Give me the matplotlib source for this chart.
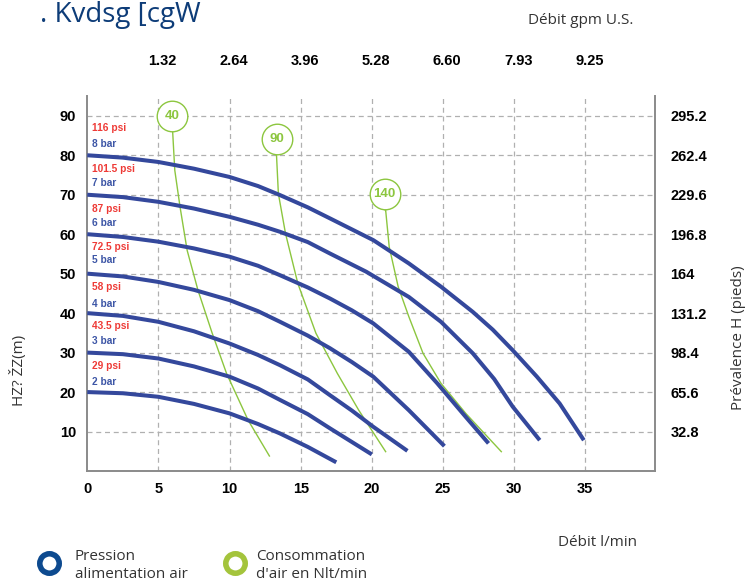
import numpy as np
import matplotlib.pyplot as plt
from matplotlib.lines import Line2D

# Data: pump curves (flow l/min, head m) per supply pressure
bar_labels = ["2 bar", "3 bar", "4 bar", "5 bar", "6 bar", "7 bar", "8 bar"]
psi_labels = ["29 psi", "43.5 psi", "58 psi", "72.5 psi", "87 psi", "101.5 psi", "116 psi"]
bar_label_y = [22.5, 32.9, 42.3, 53.4, 62.8, 72.9, 82.8]
psi_label_y = [26.6, 36.7, 46.6, 56.7, 66.3, 76.5, 86.8]

flow_2 = [0, 2.5, 5.0, 7.5, 10.0, 12.0, 13.55, 15.5, 17.5]
head_2 = [20, 19.7, 18.8, 17.0, 14.6, 11.9, 9.5, 6.1, 2.2]
flow_3 = [0, 2.5, 5.0, 7.5, 10.0, 12.0, 13.55, 15.5, 17.06, 20.0]
head_3 = [30, 29.6, 28.5, 26.5, 23.9, 20.9, 18.0, 14.4, 10.8, 4.2]
flow_4 = [0, 2.5, 5.0, 7.5, 10.0, 12.0, 13.55, 15.5, 17.06, 18.6, 20.1, 22.5]
head_4 = [40, 39.3, 37.8, 35.4, 32.3, 29.4, 26.8, 23.2, 19.2, 15.3, 11.2, 5.1]
flow_5 = [0, 2.5, 5.0, 7.5, 10.0, 12.0, 13.55, 15.5, 17.06, 18.6, 20.1, 22.6, 25.1]
head_5 = [50, 49.3, 47.9, 45.9, 43.3, 40.5, 37.8, 34.3, 31.1, 27.6, 23.9, 15.4, 6.3]
flow_6 = [0, 2.5, 5.0, 7.5, 10.0, 12.0, 13.55, 15.5, 17.06, 18.6, 20.1, 22.6, 24.6, 26.6, 28.2]
head_6 = [60, 59.3, 58.1, 56.4, 54.3, 52.0, 49.6, 46.5, 43.7, 40.7, 37.4, 30.2, 22.2, 13.7, 7.0]
flow_7 = [0, 2.5, 5.0, 7.5, 10.0, 12.0, 13.55, 15.5, 17.06, 19.6, 22.6, 24.86, 27.1, 28.6, 29.9, 31.8]
head_7 = [70, 69.4, 68.2, 66.5, 64.4, 62.4, 60.6, 58.0, 55.1, 50.5, 44.1, 37.8, 29.8, 23.3, 16.3, 7.8]
flow_8 = [0, 2.5, 5.0, 7.5, 10.0, 12.0, 13.55, 15.5, 17.06, 20.1, 22.6, 24.86, 27.1,
          28.5, 29.9, 31.6, 33.2, 34.9]
head_8 = [80, 79.4, 78.3, 76.6, 74.5, 72.2, 69.9, 66.8, 64.0, 58.5, 52.6, 46.7, 40.3,
          35.8, 30.6, 23.9, 17.1, 7.8]

# Air consumption lines (Nlt/min)
air_labels = ["40", "90", "140"]
air_label_x = [5.98, 13.3, 20.9]
air_label_y = [90.0, 84.2, 70.1]
air_flow_40 = [6.0, 6.15, 6.52, 7.02, 7.78, 8.78, 9.79, 11.3, 12.8]
air_head_40 = [86.0, 76.2, 66.9, 55.9, 45.8, 34.9, 24.7, 12.9, 3.8]
air_flow_90 = [13.3, 13.3, 13.43, 13.93, 14.8, 16.07, 17.58, 19.08, 20.97]
air_head_90 = [80.2, 80.0, 70.3, 60.2, 47.5, 34.9, 24.7, 15.4, 4.9]
air_flow_140 = [20.95, 20.97, 21.22, 21.85, 22.6, 23.6, 24.86, 26.6, 29.1]
air_head_140 = [66.0, 66.1, 56.8, 46.7, 39.1, 29.8, 22.2, 14.6, 4.9]

x_ticks = [0, 5, 10, 15, 20, 25, 30, 35]
gpm_ticks = [5, 10, 15, 20, 25, 30, 35]
gpm_labels = ["1.32", "2.64", "3.96", "5.28", "6.60", "7.93", "9.25"]
y_ticks = [10, 20, 30, 40, 50, 60, 70, 80, 90]
feet_labels = ["32.8", "65.6", "98.4", "131.2", "164", "196.8", "229.6", "262.4", "295.2"]

blue = "#34489c"
green = "#8cc63f"
red = "#ee3a36"
label_blue = "#3d56a6"

plt.rcParams['font.family'] = ['Liberation Sans', 'DejaVu Sans']

fig = plt.figure(figsize=(7.46, 5.84), dpi=100)
ax = fig.add_axes([0.117, 0.1935, 0.761, 0.642])
ax.set_xlim(0, 39.9)
ax.set_ylim(0, 95)

# grid
for gx in x_ticks[1:]:
    ax.axvline(gx, color="#b0b0b0", lw=0.9, ls=(0, (4, 3)), zorder=0)
for gy in y_ticks:
    ax.axhline(gy, color="#b0b0b0", lw=0.9, ls=(0, (4, 3)), zorder=0)

curves = [(flow_2, head_2), (flow_3, head_3), (flow_4, head_4), (flow_5, head_5),
          (flow_6, head_6), (flow_7, head_7), (flow_8, head_8)]
air = [(air_flow_40, air_head_40), (air_flow_90, air_head_90), (air_flow_140, air_head_140)]

for fx, hy in air:
    ax.plot(fx, hy, color=green, lw=1.0, zorder=2)
for fx, hy in curves:
    ax.plot(fx, hy, color=blue, lw=2.9, solid_capstyle='butt',
            solid_joinstyle='round', zorder=3)

for lab, lx, ly in zip(air_labels, air_label_x, air_label_y):
    ax.plot([lx], [ly], 'o', ms=22, mfc='white', mec=green, mew=1.0, zorder=4)
    ax.text(lx, ly, lab, color=green, fontsize=9.5, fontweight='bold',
            ha='center', va='center', zorder=5)

for b, p, by, py in zip(bar_labels, psi_labels, bar_label_y, psi_label_y):
    ax.text(0.35, py, p, color=red, fontsize=7.3, fontweight='bold', va='center')
    ax.text(0.35, by, b, color=label_blue, fontsize=7.3, fontweight='bold', va='center')

ax.spines['top'].set_visible(False)
for s in ['left', 'bottom', 'right']:
    ax.spines[s].set_color('#8a8a8a')
    ax.spines[s].set_linewidth(1.4)

ax.set_xticks(x_ticks)
ax.set_xticklabels([str(v) for v in x_ticks])
ax.set_yticks(y_ticks)
ax.set_yticklabels([str(v) for v in y_ticks])
ax.tick_params(axis='x', length=0, pad=8, labelsize=10.5)
ax.tick_params(axis='y', length=0, pad=8, labelsize=10.5)
for t in ax.get_xticklabels() + ax.get_yticklabels():
    t.set_fontweight('bold')

axr = ax.twinx()
axr.set_ylim(ax.get_ylim())
axr.set_yticks(y_ticks)
axr.set_yticklabels(feet_labels)
axr.tick_params(axis='y', length=0, pad=11, labelsize=10.5)
for s in axr.spines.values():
    s.set_visible(False)
for t in axr.get_yticklabels():
    t.set_fontweight('bold')

axt = ax.twiny()
axt.set_xlim(ax.get_xlim())
axt.set_xticks([g + 0.3 for g in gpm_ticks])
axt.set_xticklabels(gpm_labels)
axt.tick_params(axis='x', length=0, pad=20, labelsize=10.5)
for s in axt.spines.values():
    s.set_visible(False)
for t in axt.get_xticklabels():
    t.set_fontweight('bold')

txt_color = "#333333"
tfont = ['Open Sans', 'DejaVu Sans']
fig.text(40 / 746, 1.0 - 1 / 584, ". Kvdsg [cgW", color="#0d3c78", fontsize=20,
         family=tfont, va='top', ha='left')
fig.text(581 / 746, 1 - 21 / 584, "Débit gpm U.S.", color=txt_color, fontsize=11,
         family=tfont, ha='center', va='center')
fig.text(597 / 746, 1 - 542 / 584, "Débit l/min", color=txt_color, fontsize=11,
         family=tfont, ha='center', va='center')
fig.text(738 / 746, 1 - 338 / 584, "Prévalence H (pieds)", color=txt_color, fontsize=11,
         family=tfont, rotation=90, ha='center', va='center')
fig.text(18 / 746, 1 - 370 / 584, "HZ? ŽZ(m)", color=txt_color, fontsize=11,
         family=tfont, rotation=90, ha='center', va='center')

# legend rings
fig.add_artist(Line2D([49 / 746], [1 - 563 / 584], marker='o', ms=14, mfc='white',
                      mec="#0d4a8f", mew=4.0, transform=fig.transFigure))
fig.add_artist(Line2D([235 / 746], [1 - 563 / 584], marker='o', ms=14, mfc='white',
                      mec="#a4c43c", mew=4.0, transform=fig.transFigure))
fig.text(75 / 746, 1 - 556 / 584, "Pression", color=txt_color, fontsize=11,
         family=tfont, va='center')
fig.text(75 / 746, 1 - 575 / 584, "alimentation air", color=txt_color, fontsize=11,
         family=tfont, va='center')
fig.text(256 / 746, 1 - 556 / 584, "Consommation", color=txt_color, fontsize=11,
         family=tfont, va='center')
fig.text(256 / 746, 1 - 575 / 584, "d'air en Nlt/min", color=txt_color, fontsize=11,
         family=tfont, va='center')

fig.savefig("out.png", dpi=100)
